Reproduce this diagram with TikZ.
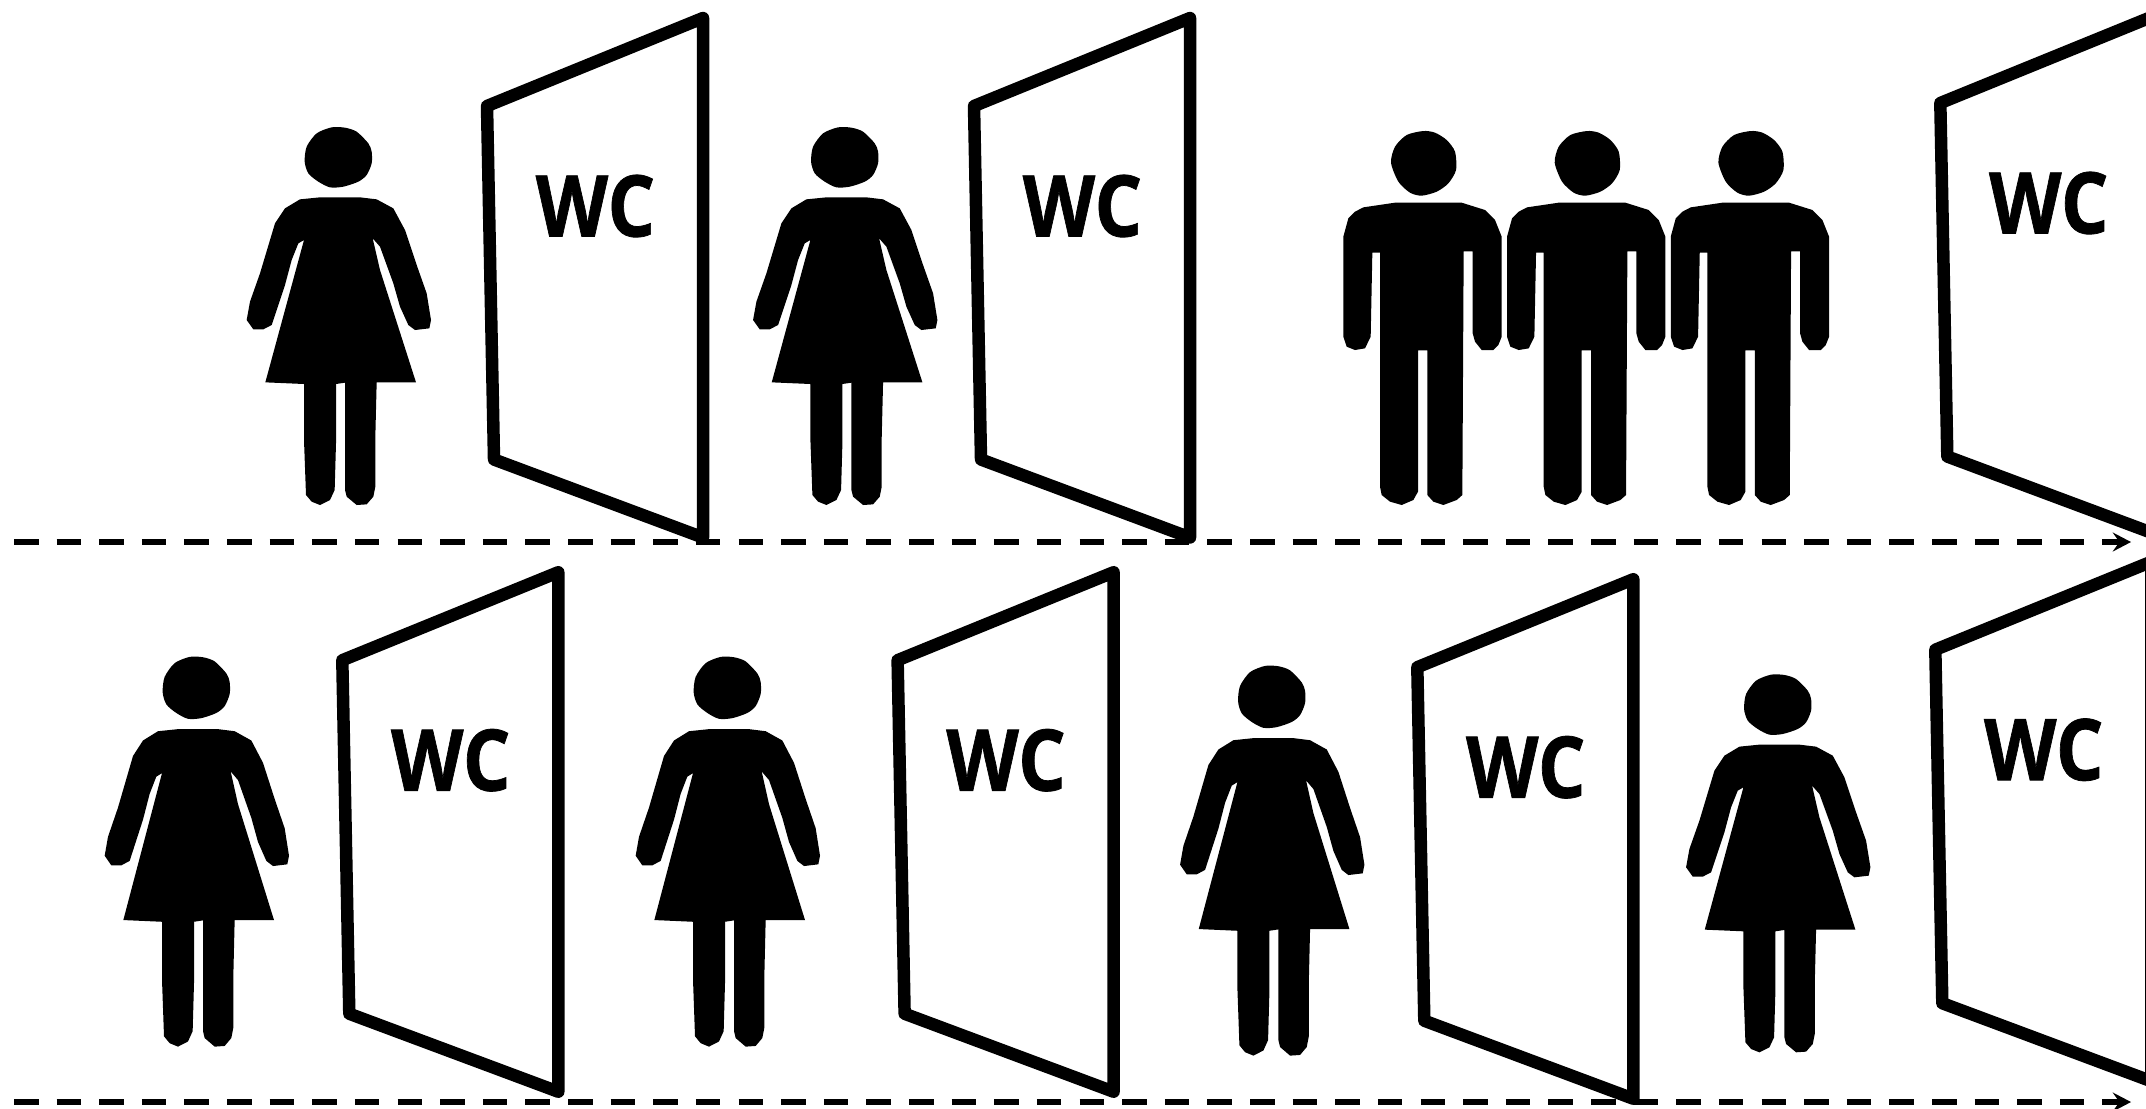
\documentclass[tikz,border=0pt]{standalone}
\usepackage{fontspec}
\setmainfont{Open Sans}
\newfontfamily\wcfont[BoldFeatures={FakeBold=0.9}]{Open Sans}
\usetikzlibrary{arrows.meta}
\tikzset{
  x=0.01cm,y=-0.01cm,
  figfill/.style={fill=black,draw=none},
  figbody/.style={fill=black,draw=none,line join=round},
  doorline/.style={draw=black,line width=3.55pt,line join=round},
  doorlabel/.style={font=\fontsize{24.2pt}{26pt}\wcfont\bfseries,inner sep=0pt,text=black},
  flow/.style={draw=black,line width=1.7pt,dash pattern=on 6.97pt off 5.15pt,-{Stealth[length=5.2pt,width=5.4pt,inset=1.9pt]}},
  edgeline/.style={draw=black,line width=0.4pt},
  pics/woman/.style={code={
    \begin{scope}[scale=1/3]
    \path[figfill] plot[smooth cycle,tension=0.45] coordinates {(305,52)(345,53)(380,65)(415,100)(425,125)(425,160)(410,195)(385,215)(340,230)(300,232)(265,215)(235,190)(224,155)(230,110)(260,70)};
    \path[figbody] (210,268)--(270,262)--(390,262)--(440,268)--(490,295)--(525,360)--(560,465)--(590,550)--(603,630)--(598,655)--(555,660)--(535,645)--(510,590)--(490,520)--(450,410)--(428,385)--(450,480)--(558,817)--(440,817)--(436,980)--(436,1130)--(430,1160)--(410,1183)--(380,1185)--(350,1160)--(345,1140)--(345,818)--(318,822)--(318,1000)--(314,1140)--(300,1170)--(270,1185)--(245,1175)--(228,1155)--(222,990)--(222,822)--(106,817)--(222,390)--(205,400)--(185,450)--(165,525)--(125,645)--(100,658)--(70,658)--(50,630)--(60,575)--(90,490)--(120,390)--(135,340)--(165,295)--cycle;
    \end{scope}}},
  pics/man/.style={code={
    \begin{scope}[scale=1/3]
    \path[figfill] plot[smooth cycle,tension=0.45] coordinates {(280,33)(315,38)(350,60)(375,95)(378,150)(355,190)(320,215)(275,227)(240,218)(205,185)(183,128)(195,80)(230,45)};
    \path[figbody] (100,262)--(195,248)--(395,248)--(465,270)--(495,300)--(515,350)--(515,650)--(505,675)--(490,690)--(455,690)--(435,665)--(428,640)--(428,394)--(401,394)--(397,1125)--(380,1140)--(340,1155)--(310,1145)--(292,1125)--(292,691)--(264,691)--(264,1115)--(250,1140)--(215,1155)--(180,1145)--(155,1125)--(150,1100)--(150,398)--(127,398)--(122,650)--(105,685)--(75,690)--(50,680)--(40,650)--(40,350)--(55,295)--(75,275)--cycle;
    \end{scope}}},
  pics/door/.style={code={
    \draw[doorline] (0,0)--(-216,88)--(-209,441.5)--(0,519.5)--cycle;
    \node[doorlabel] (-label) at (-107.5,188) {\scalebox{0.88}[1]{WC}};}}
}
\begin{document}
\begin{tikzpicture}
\clip (0,0) rectangle (2146,1108);
\fill[white] (0,0) rectangle (2146,1108);
% upper row
\pic (womanA) at (230,110) {woman};
\pic (doorA) at (703,18) {door};
\pic (womanB) at (736.4,110) {woman};
\pic (doorB) at (1190,18) {door};
\pic (manA) at (1330,120) {man};
\pic (manB) at (1493.7,120) {man};
\pic (manC) at (1657.4,120) {man};
\pic (doorC) at (2156.3,15) {door};
% lower row
\pic[yscale=1.032] (womanC) at (88,639) {woman};
\pic (doorD) at (558.3,572.2) {door};
\pic[yscale=1.032] (womanD) at (619,639) {woman};
\pic (doorE) at (1113.6,572.2) {door};
\pic[yscale=1.032] (womanE) at (1163.4,648) {woman};
\pic (doorF) at (1633.3,579.2) {door};
\pic (womanF) at (1669.4,657.3) {woman};
\pic (doorG) at (2151.3,561.7) {door};
\coordinate (edgeTop) at (2145.4,566);
\coordinate (edgeBottom) at (2145.4,1076);
\draw[edgeline] (edgeTop) -- (edgeBottom);
% dashed flows
\coordinate (flowAstart) at (14,542);
\coordinate (flowAend) at (2131,542);
\coordinate (flowBstart) at (14,1102);
\coordinate (flowBend) at (2131,1102);
\draw[flow] (flowAstart) -- (flowAend);
\draw[flow] (flowBstart) -- (flowBend);
\end{tikzpicture}
\end{document}
